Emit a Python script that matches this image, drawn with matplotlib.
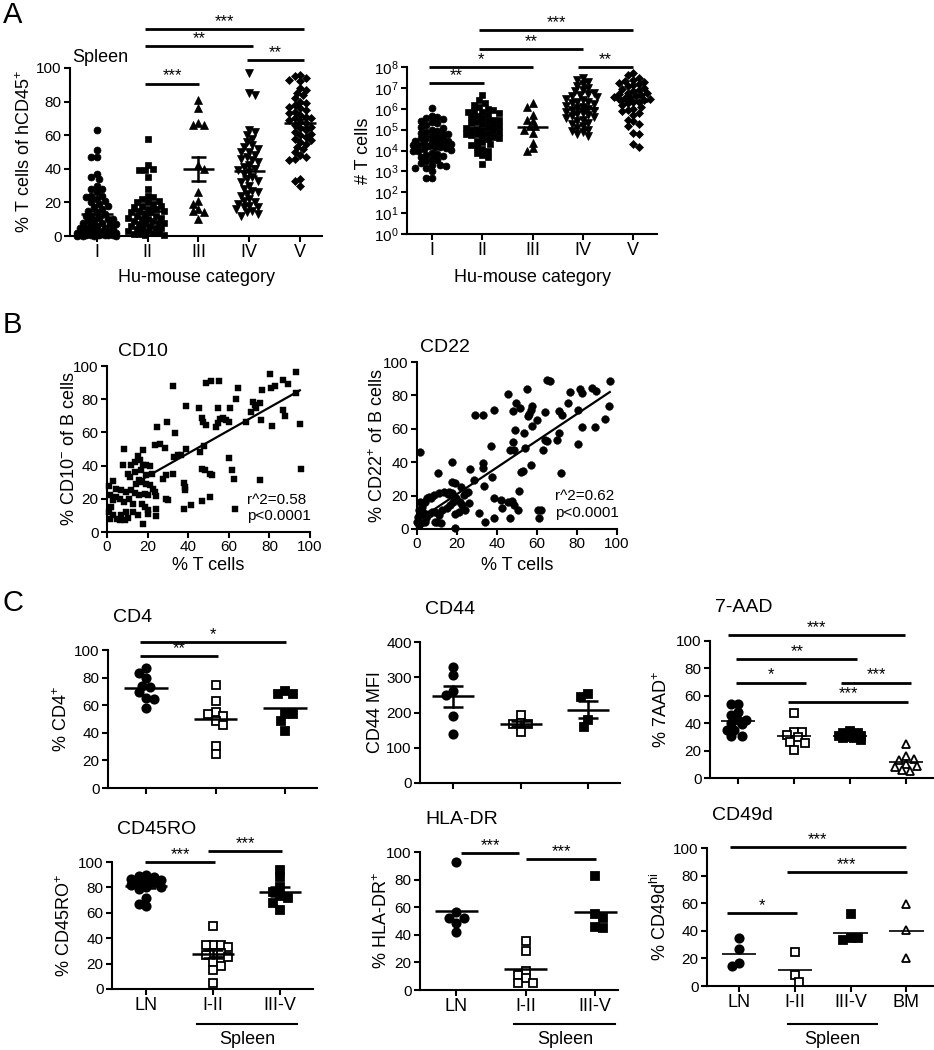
import numpy as np
import matplotlib
matplotlib.use("Agg")
import matplotlib.pyplot as plt
from matplotlib import transforms
from matplotlib.ticker import NullLocator

plt.rcParams['font.family'] = ['Liberation Sans', 'DejaVu Sans']
plt.rcParams['mathtext.fontset'] = 'custom'
plt.rcParams['mathtext.rm'] = 'Liberation Sans'
plt.rcParams['mathtext.it'] = 'Liberation Sans:italic'
plt.rcParams['mathtext.bf'] = 'Liberation Sans:bold'

# ---------------- data ----------------
A_CATS = ["I", "II", "III", "IV", "V"]
A_MARKERS = ["o", "s", "^", "v", "D"]

# % T cells of hCD45+ (spleen)
PCT_I = [63, 51, 47, 47, 37, 35, 34, 30, 28, 28, 26, 24, 24, 23, 22, 21, 20, 19, 18, 17, 16, 15, 14, 13, 12, 12,
         11, 10, 10, 9, 9, 8, 8, 7, 7, 6, 6, 5, 5, 5, 4, 4, 3, 3, 3, 2, 2, 2, 1, 1, 1, 1, 0.5, 0.5, 0.5, 0.5, 0.5,
         0.3, 0.3, 0.3, 0.2, 0.2, 0.2, 0.1]
PCT_II = [58, 42, 40, 39, 39, 35, 28, 24, 23, 22, 21, 20, 20, 19, 18, 18, 17, 16, 16, 15, 15, 14, 14, 13, 12, 12,
          11, 11, 10, 10, 9, 9, 8, 8, 7, 7, 6, 6, 5, 5, 4, 4, 3, 3, 2, 2, 1, 1, 0.5, 0.5]
PCT_III = [81, 76, 67, 66, 66, 42, 40, 26, 21, 19, 16, 15, 14, 10]
PCT_IV = [97, 85, 84, 63, 62, 60, 58, 56, 54, 53, 52, 50, 50, 48, 47, 46, 45, 44, 42, 41, 40, 39, 38, 37, 35, 34,
          33, 32, 30, 28, 27, 26, 25, 24, 22, 21, 20, 19, 18, 17, 17, 16, 15, 14, 13, 12]
PCT_V = [96, 95, 94, 93, 92, 88, 87, 85, 84, 82, 80, 79, 78, 77, 76, 75, 74, 73, 72, 71, 70, 70, 69, 68, 67, 66,
         65, 64, 63, 62, 61, 60, 59, 58, 57, 56, 55, 53, 52, 50, 48, 47, 46, 45, 34, 33, 30]
PCT_SIG = [(1.95, 5.08, 123, "***"), (1.95, 4.08, 113, "**"), (3.95, 5.08, 104.5, "**"), (1.95, 3.02, 90.7, "***")]

# absolute T cell numbers
NUM_I = [1.1e6, 4.5e5, 4.0e5, 3.5e5, 3.2e5, 2.6e5, 2.2e5, 2.0e5, 1.6e5, 1.4e5, 1.2e5, 1.0e5, 9e4, 8e4, 7e4, 6.5e4,
         6e4, 5e4, 4.5e4, 4e4, 3.8e4, 3.5e4, 3e4, 2.8e4, 2.6e4, 2.5e4, 2.3e4, 2.2e4, 2e4, 1.9e4, 1.8e4, 1.6e4, 1.5e4,
         1.4e4, 1.3e4, 1.2e4, 1.1e4, 1e4, 9e3, 8e3, 7e3, 6e3, 5.5e3, 5e3, 4e3, 3.5e3, 3e3, 2.5e3, 2e3, 2e3, 1.8e3,
         1.5e3, 1.5e3, 1e3, 5e2, 5e2]
NUM_II = [4.5e6, 2.5e6, 1.8e6, 1.5e6, 1.2e6, 1.0e6, 9e5, 8e5, 7e5, 7e5, 6e5, 5e5, 4.5e5, 4e5, 3.5e5, 3e5, 2.8e5,
          2.5e5, 2.2e5, 2e5, 1.8e5, 1.6e5, 1.5e5, 1.3e5, 1.2e5, 1.1e5, 1e5, 9e4, 8.5e4, 8e4, 7e4, 6.5e4, 6e4, 5.5e4,
          5e4, 4.5e4, 4e4, 3.5e4, 3e4, 2.5e4, 2e4, 1.8e4, 1.5e4, 1.2e4, 1e4, 8e3, 6e3, 5e3, 2.2e3]
NUM_III = [1.8e6, 1.2e6, 5e5, 3e5, 2.6e5, 1.5e5, 1.5e5, 1e5, 7e4, 2.4e4, 1.3e4, 1.0e4]
NUM_IV = [3e7, 2.5e7, 2e7, 1.5e7, 1.2e7, 1e7, 8e6, 7e6, 6e6, 5e6, 4.5e6, 4e6, 3.5e6, 3e6, 2.5e6, 2.2e6, 2e6, 1.8e6,
          1.6e6, 1.4e6, 1.2e6, 1.1e6, 1e6, 9e5, 8e5, 7e5, 6e5, 5.5e5, 5e5, 4.5e5, 4e5, 3.5e5, 3e5, 2.5e5, 2e5, 1.8e5,
          1.5e5, 1.2e5, 1e5, 9e4, 8e4, 6e4, 5e4]
NUM_V = [5e7, 4e7, 3e7, 2.5e7, 2.2e7, 2e7, 1.8e7, 1.5e7, 1.3e7, 1.2e7, 1e7, 9e6, 8e6, 7e6, 6e6, 5.5e6, 5e6, 4.5e6,
         4e6, 3.8e6, 3.5e6, 3.2e6, 3e6, 2.8e6, 2.5e6, 2.2e6, 2e6, 1.8e6, 1.5e6, 1.2e6, 1e6, 9e5, 8e5, 6e5, 5e5, 3e5,
         2.5e5, 1.8e5, 1.5e5, 7e4, 6e4, 2e4, 1.5e4]
NUM_SIG = [(1.94, 5.0, 10**9.75, "***"), (1.94, 4.01, 10**8.84, "**"), (0.94, 3.0, 1e8, "*"),
           (3.9, 5.0, 1e8, "**"), (0.94, 2.03, 10**7.24, "**")]

# B: (% T cells, % CD10- of B cells)
CD10_PTS = [
    (80.1, 95.2), (93.3, 96.2), (86.7, 91.7), (89.2, 88.9), (81, 86.5), (82.6, 88), (76.4, 85.7), (64.7, 86.5),
    (55.2, 91.1), (51.1, 91), (48.9, 90), (32.5, 88.1), (93.3, 83.9), (38.8, 76.1), (45.2, 74.4), (63.7, 79.9),
    (54.7, 74.4), (60.4, 74.4), (71.9, 78.5), (72.7, 76.5), (73.6, 74.4), (71.1, 72.4), (75.2, 77.5), (86.7, 73.4),
    (87.9, 69.8), (81.4, 63.8), (75.7, 67.4), (68.6, 66.4), (94.9, 65), (47, 68.4), (47.5, 66.4), (48.6, 64.4),
    (53.5, 63.4), (54.7, 65.4), (55.5, 67.8), (57.1, 68.4), (58.7, 67.4), (59.9, 66.4), (29.6, 66.4), (24.8, 63.4),
    (33.7, 59.4), (26.3, 53.3), (23.5, 52.3), (28.4, 50.7), (38.8, 49.9), (45.6, 48.3), (47.6, 51.9), (33, 45.3),
    (35, 46.3), (36.6, 46.3), (60.1, 44.3), (61.7, 37.6), (62.6, 32.2), (46.8, 38.2), (48.1, 37.2), (50.9, 35.2),
    (51.7, 34.6), (75.2, 31.6), (37.8, 29.6), (38.3, 27.2), (38.6, 25.2), (32.5, 35.2), (27.6, 32.2), (29.2, 34.2),
    (95.7, 37.8), (50.6, 21.1), (47, 18.7), (38.1, 14.1), (41.5, 16.1), (62.9, 14.1), (28.9, 19.7), (30, 19.1),
    (24, 9.5), (17.7, 4.6), (21, 28.2), (22.7, 26.2), (23.5, 24.1), (24.3, 21.7),
    (8.4, 50.3), (17.7, 49.3), (7.9, 40.6), (17.7, 40.2), (15.4, 45.9), (16.4, 43.3), (13.6, 42.3), (12, 40.2),
    (19.4, 40.2), (21.3, 39.8), (16.9, 37.2), (13.6, 36.2), (10.3, 35.2), (11.2, 33.2), (19.4, 34.2), (22.3, 35.2),
    (15.8, 31.2), (17.4, 30.2), (19.4, 29.2), (14.4, 29.2), (3, 30.6), (1, 27.6), (4.6, 26.2), (7.1, 25.2),
    (9.5, 24.1), (12, 25.2), (13.6, 23.7), (18.6, 23.1), (20.2, 22.1), (1.3, 22.1), (4.6, 21.1), (3, 19.1),
    (6.6, 19.7), (8.2, 18.1), (10.8, 20.1), (12.8, 17.1), (15.8, 22.1), (17.4, 17.1), (18.9, 15.1), (20.2, 13.1),
    (2.1, 15.1), (1, 12.1), (3, 10.1), (1.3, 8), (4.9, 8), (6.2, 7), (8.7, 7.4), (10.3, 8.5), (7.1, 10.5),
    (9.5, 12.1), (12.8, 12.1), (15.3, 10.1), (20.2, 11.1), (24.3, 13.7)]
CD10_FIT = (0.69, 19.8, 13.6, 95.0)   # slope, intercept, x from, x to
CD10_STATS = "r^2=0.58\np<0.0001"

# B: (% T cells, % CD22+ of B cells)
CD22_PTS = [
    (65, 89.4), (66.7, 88.8), (96.7, 88.4), (55, 83.8), (45.5, 80.8), (76.7, 82), (81.7, 83.8), (82.5, 81.4),
    (87.5, 84.4), (89.7, 82.4), (49.5, 75.4), (57.5, 73.4), (57.2, 71.4), (51.7, 72.4), (47.8, 70.4), (63.8, 70),
    (71.2, 70.8), (75.3, 75.4), (72.5, 68), (80.5, 71.4), (29.2, 68.4), (32.8, 68.4), (38.7, 71), (55.5, 67.4),
    (56.2, 68.8), (60, 65.4), (57.5, 61.4), (53.3, 57.4), (48.8, 59.4), (63.8, 53.4), (65, 52.4), (62.9, 47.4),
    (70, 53.4), (70.8, 57.4), (82.5, 60.8), (88.8, 60.8), (94.2, 66), (95.8, 73.4), (80.5, 50.8), (72, 33.4),
    (47.8, 52), (48.3, 47.4), (46.7, 47.4), (54.2, 48.8), (57.2, 38.4), (36.8, 49.8), (32.8, 39.4), (32.8, 36.4),
    (33.3, 25.8), (37.5, 31.4), (28.7, 29.4), (26.7, 35.8), (17.5, 40.4), (10.3, 33.4), (52.2, 34), (53, 34.6),
    (51.2, 22.8), (50.5, 11.4), (47.5, 17), (48.7, 14.4), (45.5, 16.4), (46.7, 6.8), (42.2, 17.4), (42.5, 12.4),
    (38.7, 18.4), (38.7, 6.8), (34.2, 4.4), (30.8, 9.4), (60.5, 11.4), (62, 11.4), (60.8, 6.4), (1.3, 46),
    (0.8, 11.4), (1.7, 8.4), (2.5, 13.4), (3.3, 16.4), (4.2, 16.4), (5, 18.4), (5.8, 19.4), (7.2, 18.8), (8.3, 20.4),
    (10.8, 21.4), (13.3, 22.4), (15.5, 20.8), (15.8, 22.4), (17.5, 21.4), (17.8, 16.4), (18.8, 18), (19.7, 18.8),
    (21.7, 16.4), (22.5, 14.4), (23.3, 20.4), (24.5, 21.8), (25.5, 22.4), (22.2, 25.4), (19.2, 27.4), (17.5, 28.4),
    (15, 12.8), (12.5, 11.4), (10.8, 8.4), (9.2, 10.4), (8.8, 4.4), (7.5, 10.4), (5.8, 8.8), (4.5, 6.4), (3.8, 4.4),
    (2.2, 3.4), (0.8, 2.4), (0, 4.4), (0.3, 7.4), (1.7, 16.4), (3.3, 9.4), (12.2, 3.8), (16.7, 14.4), (19.2, 8.8),
    (20.8, 10.4), (24.2, 11.4), (25.8, 15.4), (19.2, 0.4), (10, 4.4)]
CD22_FIT = (0.80, 4.9, 7.0, 96.4)
CD22_STATS = "r^2=0.62\np<0.0001"

# C: phenotype of T cells, LN vs spleen (I-II, III-V) vs BM
C_CATS3 = ["LN", "I-II", "III-V"]
C_CATS4 = ["LN", "I-II", "III-V", "BM"]
CD4_LN = [86.7, 83.1, 79.5, 74.2, 73.5, 69.4, 65.1, 64.3, 57.8]
CD4_I_II = [74.7, 62.7, 55.4, 53.7, 52.5, 48.7, 45.8, 30.1, 24.6]
CD4_III_V = [70.6, 68.2, 68.2, 53.5, 53.5, 48.7, 41.0]
CD4_SIG = [(0.92, 2.03, 95.7, "**"), (0.92, 3.02, 106, "*")]

CD44_LN = [329, 305, 260, 249, 190, 140]
CD44_I_II = [192, 170, 168, 168, 145]
CD44_III_V = [253, 244, 178, 159]

AAD_LN = [54, 54, 48.5, 46, 42.5, 42, 40, 39.6, 35.2, 35.2, 30.8, 30.3]
AAD_I_II = [47.8, 33.3, 33.3, 31.6, 30, 26, 25.5, 20.1]
AAD_III_V = [34, 33, 33, 32, 32, 31, 31, 30, 30, 29, 29, 28]
AAD_BM = [25, 16, 14, 13, 10, 9, 8, 6, 5]
AAD_SIG = [(0.82, 3.98, 104.4, "***"), (0.97, 3.13, 86.7, "**"), (0.97, 2.21, 69.7, "*"),
           (2.84, 4.09, 69.7, "***"), (1.89, 4.04, 55.8, "***")]

RO_LN = [90, 89, 88, 87, 86, 85, 84, 84, 82, 80, 80, 79, 72, 65, 67]
RO_I_II = [50, 35, 35, 35, 33, 28, 28, 27, 25, 21, 18, 15, 5]
RO_III_V = [94, 88, 80, 76, 73, 72, 68, 62]
RO_SIG = [(0.98, 2.03, 100, "***"), (1.93, 3.02, 108.6, "***")]

HLA_LN = [92.8, 56.6, 52.5, 52.5, 48.2, 42.2]
HLA_I_II = [35.7, 28.4, 14, 10.8, 8.4, 4.8, 4.8]
HLA_III_V = [82.4, 55.4, 52.5, 45.8, 45]
HLA_SIG = [(1.07, 1.91, 99.5, "***"), (2.01, 3.01, 94.7, "***")]

CD49_LN = [35, 26.7, 17, 14.3]
CD49_I_II = [24.8, 7.8, 2.9]
CD49_III_V = [52, 34.5, 34.5, 33.3]
CD49_BM = [59.5, 40.5, 20.6]
CD49_SIG = [(0.83, 3.99, 100.7, "***"), (1.86, 4.01, 82.5, "***"), (0.78, 2.04, 52.7, "*")]

# ---------------- helpers ----------------
W, H = 934, 1050
fig = plt.figure(figsize=(W / 100, H / 100), dpi=100)


def add_ax(x0, y0, x1, y1):
    return fig.add_axes([x0 / W, 1 - y1 / H, (x1 - x0) / W, (y1 - y0) / H])


def ftext(x, y, s, **kw):
    fig.text(x / W, 1 - y / H, s, **kw)


def style(ax):
    for s in ("top", "right"):
        ax.spines[s].set_visible(False)
    for s in ("left", "bottom"):
        ax.spines[s].set_linewidth(1.5)
    ax.tick_params(width=1.5, length=4, labelsize=11, pad=2)


def swarm(ax, x0, vals, diam, maxw):
    vals = np.asarray(vals, float)
    ypx = ax.transData.transform(np.column_stack([np.full(len(vals), x0), vals]))[:, 1]
    upx = (ax.transData.transform([(x0 + 1, vals[0])])[0, 0]
           - ax.transData.transform([(x0, vals[0])])[0, 0])
    step = diam / 2.0
    nst = int(maxw / step)
    off = np.zeros(len(vals))
    px, py = [], []
    flip = 1
    for i in np.argsort(-ypx):
        cands = [0.0]
        for k in range(1, nst + 1):
            cands += [flip * k * step, -flip * k * step]
        best, bestd = 0.0, -1.0
        for c in cands:
            d = np.min(np.hypot(np.array(px) - c, np.array(py) - ypx[i])) if px else np.inf
            if d >= diam:
                best = c
                break
            if d > bestd:
                bestd, best = d, c
        off[i] = best
        px.append(best)
        py.append(ypx[i])
        flip = -flip
    return x0 + off / upx


def group(ax, x0, vals, marker, ms, filled=True, diam=6, maxw=22, mew=1.2):
    xs = swarm(ax, x0, vals, diam, maxw)
    ax.plot(xs, vals, ls="none", marker=marker, ms=ms, mfc="k" if filled else "white",
            mec="k", mew=mew, clip_on=False, zorder=3)


def mean_line(ax, x0, m, hw=0.31, lw=1.8):
    ax.plot([x0 - hw, x0 + hw], [m, m], color="k", lw=lw, zorder=4, solid_capstyle="butt")


def sem_bars(ax, x0, vals, hw=0.15, lw=1.8):
    v = np.asarray(vals, float)
    m, s = v.mean(), v.std(ddof=1) / np.sqrt(len(v))
    ax.plot([x0, x0], [m - s, m + s], color="k", lw=lw, zorder=4)
    for y in (m - s, m + s):
        ax.plot([x0 - hw, x0 + hw], [y, y], color="k", lw=lw, zorder=4, solid_capstyle="butt")


def sig(ax, bars, off_pts=0.0, fs=12):
    for x1, x2, y, lab in bars:
        ax.plot([x1, x2], [y, y], color="k", lw=2, clip_on=False, solid_capstyle="butt")
        ax.annotate(lab, ((x1 + x2) / 2, y), xytext=(0, off_pts), textcoords="offset points",
                    ha="center", va="bottom", fontsize=fs, annotation_clip=False)


def ylab(ax, s, xpx, x0, x1, fs=13):
    ax.set_ylabel(s, fontsize=fs, va="center")
    ax.yaxis.set_label_coords((xpx - x0) / (x1 - x0), 0.5)


# ---------------- panel A ----------------
ftext(3, 15, "A", fontsize=21, va="center")

ax = add_ax(70, 68, 322, 236)
style(ax)
ax.set_xlim(0.474, 5.43)
ax.set_ylim(0, 100)
ax.set_yticks(range(0, 101, 20))
ax.set_xticks(range(1, 6))
ax.set_xticklabels(A_CATS, fontsize=13)
for i, vals in enumerate([PCT_I, PCT_II, PCT_III, PCT_IV, PCT_V]):
    ms = 5.0 if A_MARKERS[i] in "os" else (4.3 if A_MARKERS[i] == "D" else 5.6)
    group(ax, i + 1, vals, A_MARKERS[i], ms, diam=5.5, maxw=20, mew=0.5)
    mean_line(ax, i + 1, np.mean(vals))
    sem_bars(ax, i + 1, vals)
sig(ax, PCT_SIG)
ylab(ax, r"% T cells of hCD45$^{+}$", 25, 70, 322)
ax.set_xlabel("Hu-mouse category", fontsize=13, va="center")
ax.xaxis.set_label_coords(0.5, -(277 - 236) / (236 - 68))
ftext(72, 57, "Spleen", fontsize=13, va="center")

ax = add_ax(407, 67, 657, 234)
style(ax)
ax.set_yscale("log")
ax.set_xlim(0.503, 5.477)
ax.set_ylim(1, 1e8)
ax.set_yticks([10.0 ** k for k in range(9)])
ax.set_yticklabels([rf"$10^{{{k}}}$" for k in range(9)])
ax.yaxis.set_minor_locator(NullLocator())
ax.set_xticks(range(1, 6))
ax.set_xticklabels(A_CATS, fontsize=13)
for i, vals in enumerate([NUM_I, NUM_II, NUM_III, NUM_IV, NUM_V]):
    ms = 5.0 if A_MARKERS[i] in "os" else (4.3 if A_MARKERS[i] == "D" else 5.6)
    group(ax, i + 1, vals, A_MARKERS[i], ms, diam=5.5, maxw=20, mew=0.5)
    mean_line(ax, i + 1, 10 ** np.mean(np.log10(vals)), hw=0.3)
sig(ax, NUM_SIG)
ylab(ax, "# T cells", 364, 407, 657)
ax.set_xlabel("Hu-mouse category", fontsize=13, va="center")
ax.xaxis.set_label_coords(0.5, -(277 - 234) / (234 - 67))

# ---------------- panel B ----------------
ftext(3, 325, "B", fontsize=21, va="center")
for (x0, y0, x1, y1), pts, mk, ms, fit, stats, title, ylabel, ylx in [
        ((107, 366, 310, 532), CD10_PTS, "s", 5.0, CD10_FIT, CD10_STATS, "CD10",
         r"% CD10$^{-}$ of B cells", 70),
        ((417, 362, 617, 529), CD22_PTS, "o", 5.6, CD22_FIT, CD22_STATS, "CD22",
         r"% CD22$^{+}$ of B cells", 378)]:
    ax = add_ax(x0, y0, x1, y1)
    style(ax)
    ax.set_xlim(0, 100)
    ax.set_ylim(0, 100)
    ax.set_xticks(range(0, 101, 20))
    ax.set_yticks(range(0, 101, 20))
    p = np.array(pts)
    ax.plot(p[:, 0], p[:, 1], ls="none", marker=mk, ms=ms, mfc="k", mec="k", mew=0.3, clip_on=False)
    k, b, xa, xb = fit
    ax.plot([xa, xb], [k * xa + b, k * xb + b], color="k", lw=1.6)
    ax.text(69, 14.5, stats, fontsize=11, ha="left", va="center", linespacing=1.25)
    ylab(ax, ylabel, ylx, x0, x1)
    ax.set_xlabel("% T cells", fontsize=13, va="center")
    ax.xaxis.set_label_coords(0.5, -(566 - y1) / (y1 - y0))
    ftext(x0 + 11 if mk == "s" else x0 + 3, y0 - 14, title, fontsize=14, va="center")

# ---------------- panel C ----------------
ftext(2, 603, "C", fontsize=21, va="center")

C_PANELS = [
    # box, ymax, ystep, title, ylabel, ylabel x, groups, xlim, sig, sem, mean lw, swarm width, spleen span
    ((108, 650, 317, 788), 100, 20, "CD4", r"% CD4$^{+}$", 62,
     [CD4_LN, CD4_I_II, CD4_III_V], (0.453, 3.46), CD4_SIG, False, 1.8, 22, None),
    ((420, 642, 620, 783), 400, 100, "CD44", "CD44 MFI", 376,
     [CD44_LN, CD44_I_II, CD44_III_V], (0.511, 3.47), [], True, 1.8, 22, None),
    ((710, 641, 933, 778), 100, 20, "7-AAD", r"% 7AAD$^{+}$", 662,
     [AAD_LN, AAD_I_II, AAD_III_V, AAD_BM], (0.5, 4.48), AAD_SIG, False, 1.2, 12, None),
    ((112, 862, 313, 989), 100, 20, "CD45RO", r"% CD45RO$^{+}$", 65,
     [RO_LN, RO_I_II, RO_III_V], (0.49, 3.49), RO_SIG, True, 1.8, 18, (1.76, 3.25)),
    ((420, 852, 618, 990), 100, 20, "HLA-DR", r"% HLA-DR$^{+}$", 382,
     [HLA_LN, HLA_I_II, HLA_III_V], (0.48, 3.33), HLA_SIG, False, 1.8, 22, (1.84, 3.29)),
    ((707, 848, 933, 986), 100, 20, "CD49d", r"% CD49d$^{\rm hi}$", 660,
     [CD49_LN, CD49_I_II, CD49_III_V, CD49_BM], (0.425, 4.48), CD49_SIG, False, 1.2, 22, (1.87, 3.48)),
]
C_STYLE = [("o", 6.0, True), ("s", 5.6, False), ("s", 5.6, True), ("^", 6.0, False)]

for (box, ymax, ystep, title, ylabel, ylx, groups, xlim, sigs, sem, mlw, sw, spleen) in C_PANELS:
    x0, y0, x1, y1 = box
    ax = add_ax(x0, y0, x1, y1)
    style(ax)
    ax.set_xlim(*xlim)
    ax.set_ylim(0, ymax)
    ax.set_yticks(range(0, ymax + 1, ystep))
    ax.set_xticks(range(1, len(groups) + 1))
    if spleen is None:
        ax.set_xticklabels([""] * len(groups))
    else:
        ax.set_xticklabels((C_CATS4 if len(groups) == 4 else C_CATS3), fontsize=13)
        tr = transforms.blended_transform_factory(ax.transData, fig.transFigure)
        ax.plot(list(spleen), [1 - 1024 / H] * 2, color="k", lw=1.5, transform=tr, clip_on=False)
        ax.text(sum(spleen) / 2, 1 - 1040 / H, "Spleen", fontsize=13, ha="center", va="center", transform=tr)
    for i, vals in enumerate(groups):
        mk, ms, filled = C_STYLE[i]
        group(ax, i + 1, vals, mk, ms, filled=filled, diam=7.5, maxw=sw, mew=1.3)
        mean_line(ax, i + 1, np.mean(vals), hw=0.31, lw=mlw)
        if sem:
            sem_bars(ax, i + 1, vals)
    sig(ax, sigs)
    ylab(ax, ylabel, ylx, x0, x1)
    ftext(x0 + 5, y0 - 33, title, fontsize=14, va="center")

fig.savefig("out.png", dpi=100)
